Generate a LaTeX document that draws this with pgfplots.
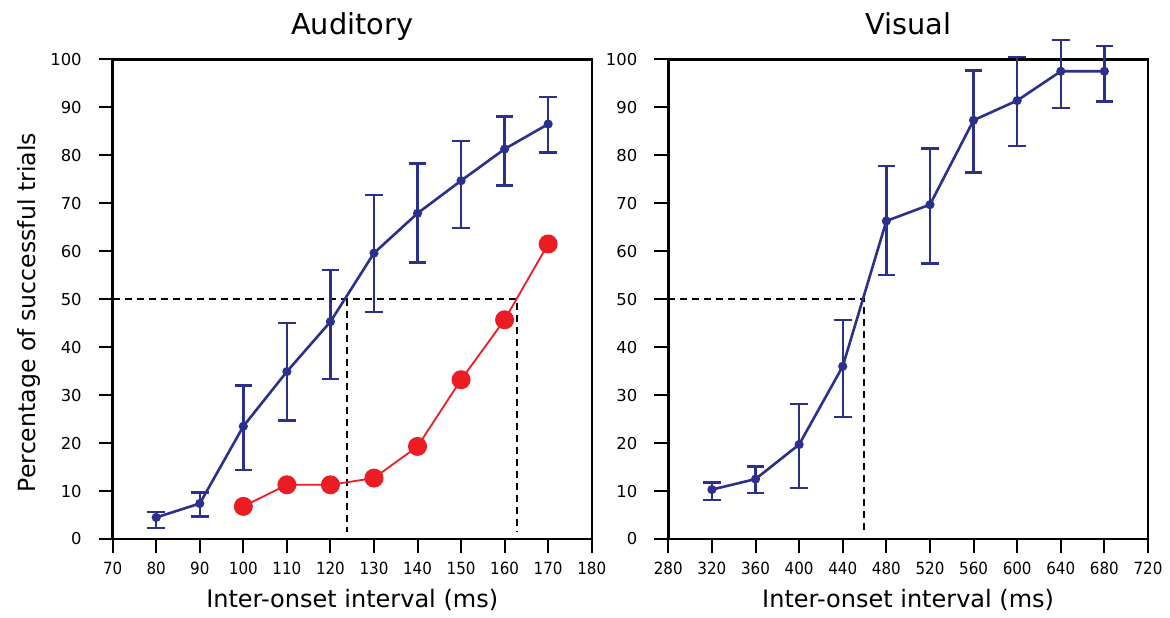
\documentclass[border=0pt]{standalone}
\usepackage{fontspec}
\setmainfont{DejaVu Sans}
\newfontfamily\condfont{DejaVu Sans}[FakeStretch=0.9]
\usepackage{pgfplots}
\pgfplotsset{compat=1.18}

\definecolor{navy}{RGB}{42,48,140}
\definecolor{dotred}{RGB}{236,28,36}

\pgfplotsset{
  panel/.style={
    scale only axis, width=239.5pt, height=239.85pt,
    ymin=0, ymax=100, ytick={0,10,...,100},
    axis line style={line width=1.2pt},
    tick align=outside, xtick pos=left, ytick pos=left,
    major tick length=7pt,
    tick style={line width=1pt, black},
    clip=false,
    /pgf/number format/assume math mode=true,
    yticklabel style={font=\fontsize{8.2}{9}\selectfont},
    xticklabel style={font=\condfont\fontsize{8.4}{9}\selectfont},
    xticklabel shift=0.8pt, yticklabel shift=5pt,
    title style={font=\fontsize{14.4}{16}\selectfont, at={(axis description cs:0.5,1)}, anchor=base, yshift=6.5pt},
    xlabel style={font=\fontsize{12}{14}\selectfont, at={(axis description cs:0.5,-0.1418)}, anchor=base},
    ylabel style={font=\fontsize{11.8}{14}\selectfont, at={(axis description cs:-0.162,0.472)}, anchor=base, rotate=0},
  },
  refline/.style={black, line width=1pt, dash pattern=on 3.5pt off 2.5pt, forget plot},
  bluecurve/.style={navy, line width=1.3pt, mark=*, mark size=1.6pt,
    mark options={solid, fill=navy},
    error bars/.cd, y dir=both, y explicit,
    error bar style={line width=1.2pt, navy},
    error mark options={rotate=90, mark size=4.4pt, line width=1.2pt, navy}},
}

\pgfplotstableread{
x   y    ep   em
80  4.5  1.1  2.2
90  7.4  2.3  2.7
100 23.5 8.5  9.1
110 34.9 10.1 10.2
120 45.3 10.8 12.0
130 59.6 12.1 12.3
140 67.9 10.4 10.3
150 74.7 8.3  9.9
160 81.3 6.8  7.6
170 86.5 5.7  5.9
}\auditory

\pgfplotstableread{
x   y
100 6.8
110 11.3
120 11.3
130 12.7
140 19.3
150 33.2
160 45.7
170 61.5
}\auditoryred

\pgfplotstableread{
x   y    ep   em
320 10.3 1.5  2.2
360 12.5 2.6  2.9
400 19.7 8.5  9.1
440 36.0 9.7  10.6
480 66.3 11.4 11.3
520 69.7 11.7 12.3
560 87.3 10.4 10.9
600 91.4 9.1  9.5
640 97.5 6.5  7.7
680 97.5 5.3  6.3
}\visual

\begin{document}
\begin{tikzpicture}
\useasboundingbox (-56.35pt,-39pt) rectangle (528.65pt,269.5pt);

\begin{axis}[panel, at={(0pt,0pt)}, anchor=south west,
  xmin=70, xmax=180, xtick={70,80,...,180},
  title={Auditory},
  xlabel={Inter-onset interval (ms)},
  ylabel={Percentage of successful trials}]
\addplot[refline] coordinates {(70,50) (162.8,50) (162.8,1.5)};
\addplot[refline] coordinates {(123.75,50) (123.75,1.5)};
\addplot[dotred, line width=0.9pt, mark=*, mark size=4.3pt, mark options={fill=dotred}]
  table [x=x, y=y] {\auditoryred};
\addplot[bluecurve] table [x=x, y=y, y error plus=ep, y error minus=em] {\auditory};
\end{axis}

\begin{axis}[panel, at={(277.8pt,0pt)}, anchor=south west, width=239.85pt,
  xmin=280, xmax=720, xtick={280,320,...,720},
  title={Visual},
  xlabel={Inter-onset interval (ms)}]
\addplot[refline] coordinates {(280,50) (459.5,50) (459.5,1.5)};
\addplot[bluecurve] table [x=x, y=y, y error plus=ep, y error minus=em] {\visual};
\end{axis}
\end{tikzpicture}
\end{document}
